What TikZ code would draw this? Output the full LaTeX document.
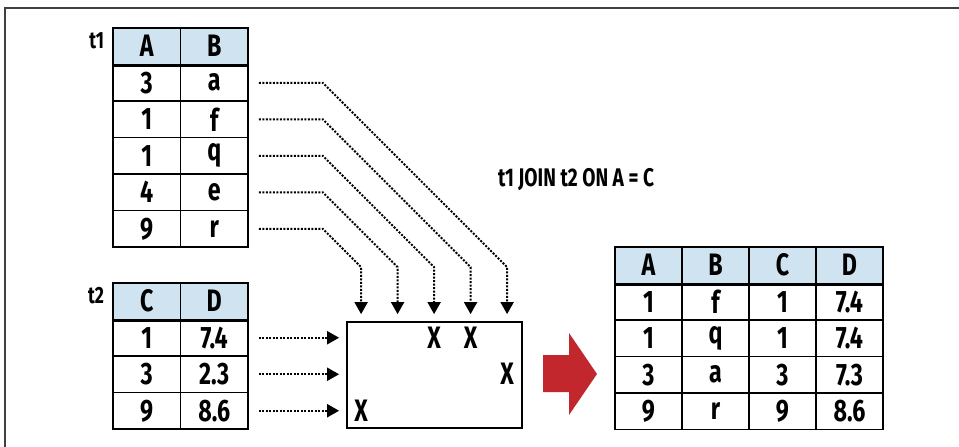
\documentclass[tikz,border=0pt]{standalone}
\usepackage{fontspec}
\setmainfont{Fira Sans}[FakeStretch=0.75]
\usetikzlibrary{arrows.meta}
\usetikzlibrary{positioning}
\definecolor{headblue}{HTML}{CFE4F0}
\definecolor{joinred}{HTML}{C1272D}
\definecolor{framegray}{HTML}{404040}
\tikzset{
  cell/.style={draw, line width=1.6pt, minimum width=67.5pt, minimum height=36.5pt,
    inner sep=0pt, font=\fontsize{31}{34}\selectfont\bfseries},
  rcell/.style={cell, minimum width=67pt},
  head/.style={fill=headblue},
  link/.style={line width=2pt, dash pattern=on 2pt off 1.5pt,
    -{Triangle[width=13pt,length=12pt]}},
  lbl/.style={inner sep=0pt, font=\fontsize{23.5}{27}\selectfont\bfseries},
  hit/.style={inner sep=0pt, font=\fontsize{31}{34}\selectfont\bfseries},
}

\begin{document}
\begin{tikzpicture}[x=1pt,y=-1pt]
  \useasboundingbox (0,0) rectangle (959,447);
  \draw [framegray, line width=2pt] (5,447) -- (5,8) -- (959,8);

  % table t1
  \foreach \h [count=\j] in {A,B}
    \node [cell, head] (t1h\j) at (79.25+67.5*\j, 46.25) {\h};
  \foreach \a/\b [count=\i] in {3/a,1/f,1/q,4/e,9/r} {
    \node [cell] (t1a\i) at (146.75, 46.25+36.5*\i) {\a};
    \node [cell] (t1b\i) at (214.25, 46.25+36.5*\i) {\b};
  }
  \draw [line width=3.5pt] (t1h1.south west) -- (t1h2.south east);
  \node [lbl, anchor=north east] (t1lbl) at ([xshift=-8pt,yshift=-5pt]t1h1.north west) {t1};

  % table t2
  \foreach \h [count=\j] in {C,D}
    \node [cell, head] (t2h\j) at (79.25+67.5*\j, 301.25) {\h};
  \foreach \c/\d [count=\i] in {1/7.4,3/2.3,9/8.6} {
    \node [cell] (t2c\i) at (146.75, 301.25+36.5*\i) {\c};
    \node [cell] (t2d\i) at (214.25, 301.25+36.5*\i) {\d};
  }
  \draw [line width=3.5pt] (t2h1.south west) -- (t2h2.south east);
  \node [lbl, anchor=north east] (t2lbl) at ([xshift=-8pt,yshift=-5pt]t2h1.north west) {t2};

  % join grid
  \node [draw, line width=1.8pt, minimum width=175pt, minimum height=106pt] (box) at (434.5,375) {};
  \foreach \j in {1,...,5}
    \path (box.north west) ++({15+36.5*(\j-1)},-7) coordinate (top\j);
  \foreach \k in {1,2,3}
    \path (box.west |- t2d\k) ++(-7,0) coordinate (in\k);

  \foreach \i/\j in {1/5,2/4,3/3,4/2,5/1}
    \draw [link] ([xshift=10pt]t1b\i.east) -- ++(64,0) -- ([yshift=47pt]top\j) -- (top\j);
  \foreach \k in {1,2,3}
    \draw [link] ([xshift=10pt]t2d\k.east) -- (in\k);

  \node [hit] (x13) at (top3 |- in1) {X};
  \node [hit] (x14) at (top4 |- in1) {X};
  \node [hit] (x25) at (top5 |- in2) {X};
  \node [hit] (x31) at (top1 |- in3) {X};

  \node [lbl, font=\fontsize{25.5}{29}\selectfont\bfseries] (join) at (576,180) {t1 JOIN t2 ON A = C};

  % result
  \fill [joinred] (543,355) -- (569,355) -- (569,333) -- (597,374) -- (569,415) -- (569,392) -- (543,392) -- cycle;
  \foreach \h [count=\j] in {A,B,C,D}
    \node [rcell, head] (rh\j) at (581.5+67*\j, 265.25) {\h};
  \foreach \a/\b/\c/\d [count=\i] in {1/f/1/7.4,1/q/1/7.4,3/a/3/7.3,9/r/9/8.6} {
    \node [rcell] (ra\i) at (648.5, 265.25+36.5*\i) {\a};
    \node [rcell] (rb\i) at (715.5, 265.25+36.5*\i) {\b};
    \node [rcell] (rc\i) at (782.5, 265.25+36.5*\i) {\c};
    \node [rcell] (rd\i) at (849.5, 265.25+36.5*\i) {\d};
  }
  \draw [line width=3.5pt] (rh1.south west) -- (rh4.south east);
\end{tikzpicture}
\end{document}
